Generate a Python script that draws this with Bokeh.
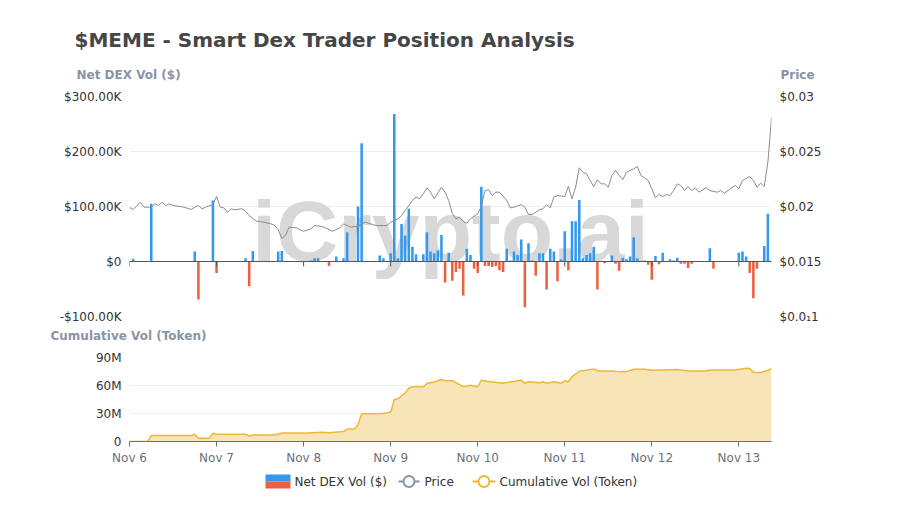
from bokeh.plotting import figure
from bokeh.layouts import column, row
from bokeh.models import Range1d, LinearAxis, FixedTicker, Label, Span
from bokeh.embed import file_html
from bokeh.resources import INLINE

TITLE = "$MEME - Smart Dex Trader Position Analysis"
LEFT_NAME = "Net DEX Vol ($)"
RIGHT_NAME = "Price"
BOTTOM_NAME = "Cumulative Vol (Token)"
WATERMARK = "iCrypto.ai"
LEGEND_LABELS = ["Net DEX Vol ($)", "Price", "Cumulative Vol (Token)"]

DAY_HOURS = [0, 24, 48, 72, 96, 120, 144, 168]
DAY_LABELS = ["Nov 6", "Nov 7", "Nov 8", "Nov 9", "Nov 10", "Nov 11", "Nov 12", "Nov 13"]

# hourly net DEX volume (hours since Nov 6 00:00), in $K
NET_HOURS = [1, 6, 18, 19, 23, 24, 32, 33, 34, 41, 42, 50, 51, 52, 55, 57, 59, 60, 63, 64,
             69, 70, 72, 73, 74, 75, 76, 77, 78, 79, 81, 82, 83, 84, 85, 86, 87, 88, 89, 90,
             91, 92, 93, 94, 95, 96, 97, 98, 99, 100, 101, 102, 103, 104, 105, 106, 107, 108,
             109, 110, 111, 112, 113, 114, 115, 116, 117, 118, 119, 120, 121, 122, 123, 124,
             125, 126, 127, 128, 129, 131, 133, 134, 135, 136, 137, 138, 139, 140, 142, 143,
             144, 145, 146, 147, 149, 150, 151, 152, 153, 154, 155, 160, 161, 168, 169, 170,
             171, 172, 173, 175, 176, 177]
NET_VOL_K = [5, 105, 18, -69, 111, -21, 6, -45, 19, 18, 19, 2, 6, 6, -8, 9, 6, 53, 100, 215,
             11, 6, 15, 268, 6, 68, 47, 96, 27, 13, 13, 53, 18, 15, 20, 48, -38, 16, -35, -19,
             -13, -62, 23, 12, -13, -21, 136, -8, -8, -10, -8, -16, -19, 23, 2, 18, 12, 40,
             -83, 33, 2, -26, 15, 15, -51, 23, 18, -36, 4, 55, -16, 73, 73, 112,
             6, 12, 15, 27, -51, -3, 11, -4, -17, 7, 4, 9, 44, 6, 2, -6,
             -33, 10, -5, 16, 4, 2, 7, -4, -4, -12, -4, 24, -13, 16, 18, 9,
             -21, -67, -13, 28, 87, 2]

PRICE_HOURS = [0, 1, 3, 4, 6, 7, 8, 9, 10, 11, 12, 14, 15, 17, 18, 19, 20, 21, 23, 24, 25, 26,
               27, 28, 29, 31, 32, 33, 35, 36, 37, 39, 40, 41, 42, 43, 44, 46, 47, 48, 50, 51,
               53, 54, 56, 58, 59, 61, 62, 63, 64, 65, 67, 68, 70, 71, 72, 74, 75, 76, 78, 79,
               80, 81, 82, 83, 84, 86, 87, 88, 89, 90, 91, 92, 93, 94, 96, 97, 98, 99, 100, 101,
               102, 104, 105, 106, 108, 109, 110, 111, 113, 114, 115, 116, 117, 118, 120, 121,
               122, 123, 124, 125, 126, 127, 128, 129, 130, 131, 132, 133, 134, 135, 136, 137,
               139, 140, 141, 142, 143, 144, 145, 146, 147, 148, 149, 150, 151, 152, 153, 154,
               155, 156, 157, 159, 160, 162, 163, 164, 166, 167, 168, 169, 171, 172, 173, 174,
               175, 176, 177]
PRICE = [0.01994, 0.01973, 0.02039, 0.01994, 0.01994, 0.02025, 0.02009, 0.02039, 0.02009,
         0.02025, 0.02009, 0.0200, 0.01994, 0.01973, 0.01994, 0.02009, 0.01979, 0.01994,
         0.02018, 0.02091, 0.01994, 0.01988, 0.01948, 0.01979, 0.0197, 0.01979, 0.01957,
         0.01918, 0.01866, 0.01864, 0.01857, 0.01843, 0.01827, 0.01788, 0.01712, 0.01736,
         0.01812, 0.01806, 0.01788, 0.01775, 0.01797, 0.01827, 0.01818, 0.01806, 0.01775,
         0.01806, 0.01843, 0.01812, 0.01818, 0.01818, 0.01843, 0.01857, 0.01836, 0.01827,
         0.01827, 0.01827, 0.01857, 0.01888, 0.01918, 0.01964, 0.02055, 0.02085, 0.0207,
         0.02115, 0.0217, 0.0213, 0.0207, 0.02175, 0.0213, 0.02055, 0.01934, 0.01888,
         0.01903, 0.01864, 0.01848, 0.01888, 0.01934, 0.0200, 0.02145, 0.02152, 0.0210,
         0.0213, 0.0213, 0.02055, 0.01988, 0.01994, 0.02018, 0.01994, 0.01927, 0.01927,
         0.0197, 0.01979, 0.02018, 0.01988, 0.02085, 0.0210, 0.02091, 0.02182, 0.0207,
         0.02175, 0.02352, 0.02312, 0.02297, 0.02236, 0.02182, 0.02243, 0.02206, 0.02206,
         0.02175, 0.02282, 0.02327, 0.02282, 0.02243, 0.02312, 0.02343, 0.02364, 0.02282,
         0.02261, 0.02236, 0.02161, 0.02079, 0.02109, 0.02091, 0.02109, 0.0210, 0.02145,
         0.02206, 0.02191, 0.02145, 0.02182, 0.02145, 0.0217, 0.0213, 0.0217, 0.02145,
         0.0213, 0.02145, 0.0212, 0.0217, 0.02191, 0.02161, 0.02236, 0.02273, 0.02236,
         0.02175, 0.02212, 0.02182, 0.02403, 0.02806]

CUM_HOURS = [0, 5, 6, 17, 18, 19, 22, 23, 24, 32, 33, 34, 40, 42, 49, 53, 55, 59, 60, 62, 63,
             64, 68, 71, 72, 73, 74, 76, 77, 78, 81, 82, 84, 86, 87, 89, 90, 92, 94, 96, 97,
             99, 103, 105, 108, 109, 110, 113, 114, 115, 117, 119, 120, 121, 122, 124, 126,
             128, 129, 133, 135, 137, 139, 142, 144, 147, 151, 154, 159, 160, 167, 170, 171,
             172, 174, 176, 177]
CUM_VOL_M = [0, 0, 6.3, 6.3, 7.7, 3.5, 3.5, 8.8, 7.7, 7.7, 5.9, 7.0, 7.0, 9.1, 9.1, 9.8, 9.5,
             10.6, 13.3, 13.3, 18.3, 29.6, 29.6, 30.6, 31.7, 44.7, 45.8, 51.8, 57.0, 58.7,
             58.7, 62.3, 63.7, 66.5, 65.1, 65.1, 63.0, 58.7, 60.2, 58.7, 65.5, 64.4, 62.3,
             63.7, 65.8, 62.3, 64.0, 63.0, 64.0, 62.3, 64.0, 62.3, 65.1, 64.0, 69.3, 75.3,
             76.4, 77.8, 75.6, 75.6, 74.6, 74.9, 77.4, 77.4, 76.4, 76.7, 77.1, 75.6, 75.6,
             76.7, 76.7, 78.5, 78.1, 74.3, 73.9, 76.4, 78.1]

VOL_TICKS = [-100000, 0, 100000, 200000, 300000]
VOL_TICK_LABELS = ["-$100.00K", "$0", "$100.00K", "$200.00K", "$300.00K"]
PRICE_TICKS = [0.01, 0.015, 0.02, 0.025, 0.03]
PRICE_TICK_LABELS = ["$0.0\u20811", "$0.015", "$0.02", "$0.025", "$0.03"]
CUM_TICKS = [0, 30000000, 60000000, 90000000]
CUM_TICK_LABELS = ["0", "30M", "60M", "90M"]

BLUE = "#3399ee"
RED = "#ec6240"
GOLD = "#ecb83a"
NAME_COLOR = "#8a93a6"
FONT = "DejaVu Sans"

PAGE_W = 900
FRAME_W = 642
BORDER = 129
xr = Range1d(0, 177)


def strip(h):
    s = figure(frame_width=PAGE_W, frame_height=h, x_range=Range1d(0, PAGE_W),
               y_range=Range1d(h, 0), x_axis_location=None, y_axis_location=None,
               output_backend="svg", toolbar_location=None, min_border=0)
    s.outline_line_color = None
    s.grid.visible = False
    return s


def name_label(x, y, text, size="12px", color=NAME_COLOR, bold=True):
    return Label(x=x, y=y, text=text, text_font=FONT, text_font_size=size,
                 text_font_style="bold" if bold else "normal", text_color=color,
                 text_baseline="middle")


# ---------------- header strip ----------------
header = strip(86)
header.add_layout(name_label(74, 39, TITLE, size="20px", color="#464646"))
header.add_layout(name_label(76, 74, LEFT_NAME))
header.add_layout(name_label(780, 74, RIGHT_NAME))

# ---------------- top chart ----------------
top = figure(frame_width=FRAME_W, frame_height=220, x_range=xr,
             y_range=Range1d(VOL_TICKS[0], VOL_TICKS[-1]),
             x_axis_location=None, output_backend="svg", toolbar_location=None,
             min_border_left=BORDER, min_border_right=BORDER, min_border_top=10,
             min_border_bottom=10)
top.outline_line_color = None
top.xgrid.visible = False
top.ygrid.ticker = FixedTicker(ticks=VOL_TICKS)
top.ygrid.grid_line_color = "#efefef"

yax = top.yaxis[0]
yax.ticker = FixedTicker(ticks=VOL_TICKS)
yax.major_label_overrides = dict(zip(VOL_TICKS, VOL_TICK_LABELS))

top.extra_y_ranges = {"price": Range1d(PRICE_TICKS[0], PRICE_TICKS[-1])}
pax = LinearAxis(y_range_name="price", ticker=FixedTicker(ticks=PRICE_TICKS),
                 major_label_overrides=dict(zip(PRICE_TICKS, PRICE_TICK_LABELS)))
top.add_layout(pax, "right")

for ax in (yax, pax):
    ax.axis_line_color = None
    ax.major_tick_line_color = None
    ax.major_tick_in = 0
    ax.major_tick_out = 0
    ax.minor_tick_line_color = None
    ax.major_label_text_font = FONT
    ax.major_label_text_font_size = "12px"
    ax.major_label_text_color = "#333333"
    ax.major_label_standoff = 8

top.add_layout(Label(x=321, y=86, x_units="screen", y_units="screen", text=WATERMARK,
                     text_font="Liberation Sans", text_font_style="bold",
                     text_font_size="86px", text_color="#d8d8d8", text_align="center",
                     text_baseline="alphabetic", level="underlay"))

vals = [v * 1000 for v in NET_VOL_K]
cols = [BLUE if v >= 0 else RED for v in vals]
top.vbar(x=NET_HOURS, top=vals, bottom=0, width=0.7, fill_color=cols, line_color=None)

top.add_layout(Span(location=0, dimension="width", line_color="#555555", line_width=1))
top.segment(x0=DAY_HOURS, y0=[0] * len(DAY_HOURS), x1=DAY_HOURS, y1=[-9000] * len(DAY_HOURS),
            line_color="#555555", line_width=1)

top.line(PRICE_HOURS, PRICE, y_range_name="price", line_color="#8c8c8c", line_width=1)

# ---------------- middle strip ----------------
mid = strip(21)
mid.add_layout(name_label(50, 9, BOTTOM_NAME))

# ---------------- bottom chart ----------------
bot = figure(frame_width=FRAME_W, frame_height=84, x_range=xr,
             y_range=Range1d(CUM_TICKS[0], CUM_TICKS[-1]),
             output_backend="svg", toolbar_location=None,
             min_border_left=BORDER, min_border_right=BORDER, min_border_top=10,
             min_border_bottom=20)
bot.outline_line_color = None
bot.xgrid.visible = False
bot.ygrid.ticker = FixedTicker(ticks=CUM_TICKS)
bot.ygrid.grid_line_color = "#efefef"

cum = [v * 1e6 for v in CUM_VOL_M]
bot.varea(x=CUM_HOURS, y1=[0] * len(cum), y2=cum, fill_color="#f7e5b8")
bot.line(CUM_HOURS, cum, line_color=GOLD, line_width=1.5)

xa = bot.xaxis[0]
xa.ticker = FixedTicker(ticks=DAY_HOURS)
xa.major_label_overrides = dict(zip(DAY_HOURS, DAY_LABELS))
xa.axis_line_color = "#6e7079"
xa.major_tick_line_color = "#6e7079"
xa.major_tick_in = 0
xa.major_tick_out = 5
xa.minor_tick_line_color = None
xa.major_label_text_font = FONT
xa.major_label_text_font_size = "12px"
xa.major_label_text_color = "#6e7079"
xa.major_label_standoff = 4

ya = bot.yaxis[0]
ya.ticker = FixedTicker(ticks=CUM_TICKS)
ya.major_label_overrides = dict(zip(CUM_TICKS, CUM_TICK_LABELS))
ya.axis_line_color = None
ya.major_tick_line_color = None
ya.major_tick_in = 0
ya.major_tick_out = 0
ya.minor_tick_line_color = None
ya.major_label_text_font = FONT
ya.major_label_text_font_size = "12px"
ya.major_label_text_color = "#333333"
ya.major_label_standoff = 8

# ---------------- legend strip ----------------
leg = strip(28)
leg.quad(left=[265], right=[290], top=[7], bottom=[14], fill_color=BLUE, line_color=None)
leg.quad(left=[265], right=[290], top=[14], bottom=[21], fill_color=RED, line_color=None)
leg.segment(x0=[398], y0=[14], x1=[419], y1=[14], line_color="#8a93a3", line_width=2)
leg.scatter(x=[408.5], y=[14], size=11, fill_color="white", line_color="#8a93a3", line_width=2)
leg.segment(x0=[472], y0=[14], x1=[495], y1=[14], line_color=GOLD, line_width=2)
leg.scatter(x=[483.5], y=[14], size=11, fill_color="white", line_color=GOLD, line_width=2)
for tx, txt in zip([294, 424, 499], LEGEND_LABELS):
    leg.add_layout(name_label(tx, 14, txt, color="#333333", bold=False))

layout = column(row(header), top, row(mid), bot, row(leg), spacing=0)
open("out.html", "w").write(file_html(layout, INLINE))
